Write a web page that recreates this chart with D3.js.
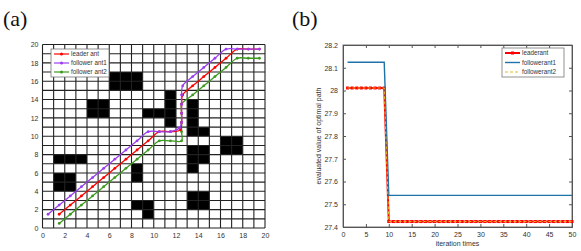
<!DOCTYPE html>
<html>
<head>
<meta charset="utf-8">
<script src="https://cdn.jsdelivr.net/npm/d3@7"></script>
<style>
  html, body { margin: 0; padding: 0; background: #fff; }
  svg { display: block; }
  text { font-family: Arial, "Liberation Sans", sans-serif; }
</style>
</head>
<body>
<svg id="chart" width="581" height="251"></svg>
<script>
// ── data: (a) grid map ──────────────────────────────────────────────
const gridTicks = [0, 2, 4, 6, 8, 10, 12, 14, 16, 18, 20];
// obstacles as [x0, y0, x1, y1] in grid units
const obstacles = [
  [6, 15, 9, 17], [4, 12, 6, 14], [9, 12, 11, 13], [11, 11, 12, 15],
  [13, 10, 14, 14], [14, 10, 15, 11], [16, 8, 18, 10], [13, 7, 15, 9],
  [13, 6, 14, 7], [1, 7, 4, 8], [1, 4, 3, 6], [8, 5, 9, 7],
  [8, 2, 10, 3], [9, 1, 10, 2], [13, 2, 15, 4]
];
const leaderPath = [
  [1.5,1.5],[2.5,2.5],[3.5,3.5],[4.5,4.5],[5.5,5.5],[6.5,6.5],[7.5,7.5],[8.5,8.5],
  [9.5,9.5],[10.5,10.5],[11.5,10.5],[12.4,10.7],[12.5,11.5],[12.5,12.5],[12.5,13.5],
  [12.6,14.5],[13.5,15.5],[14.5,16.5],[15.5,17.5],[16.5,18.5],[17.5,19.5],[18.5,19.5],[19.5,19.5]
];
const follower1Path = [
  [0.5,1.5],[1.5,2.5],[2.5,3.5],[3.5,4.5],[4.5,5.5],[5.5,6.5],[6.5,7.5],[7.5,8.5],
  [8.5,9.5],[9.5,10.5],[10.5,10.5],[11.5,10.5],[12.3,10.9],[12.5,11.5],[12.5,12.5],
  [12.5,13.5],[12.5,14.5],[12.6,15.5],[13.5,16.5],[14.5,17.5],[15.5,18.5],[16.5,19.5],
  [17.5,19.5],[18.5,19.5],[19.5,19.5]
];
const follower2Path = [
  [1.5,0.5],[2.5,1.5],[3.5,2.5],[4.5,3.5],[5.5,4.5],[6.5,5.5],[7.5,6.5],[8.5,7.5],
  [9.5,8.5],[10.5,9.5],[11.5,9.5],[12.5,9.5],[12.5,10.5],[12.5,11.5],[12.5,12.5],
  [12.5,13.5],[13.5,14.5],[14.5,15.5],[15.5,16.5],[16.5,17.5],[17.5,18.5],[18.5,18.5],[19.5,18.5]
];
const pathNames = ['leader ant', 'follower ant1', 'follower ant2'];
const pathColors = ['#ff0000', '#9b3df0', '#3c9a1e'];

// ── data: (b) convergence ───────────────────────────────────────────
const iterations = d3.range(1, 51);
const leaderBefore = 28.011, leaderAfter = 27.424;
const f1Before = 28.124, f1After = 27.539;
const f2Before = 28.011, f2After = 27.424;
const switchIter = 10;
const leaderVals = iterations.map(i => i < switchIter ? leaderBefore : leaderAfter);
const f1Vals = iterations.map(i => i < switchIter ? f1Before : f1After);
const f2Vals = iterations.map(i => i < switchIter ? f2Before : f2After);
const iterTicks = [0, 5, 10, 15, 20, 25, 30, 35, 40, 45, 50];
const valTicks = [27.4, 27.5, 27.6, 27.7, 27.8, 27.9, 28, 28.1, 28.2];
const seriesNames = ['leaderant', 'followerant1', 'followerant2'];

const svg = d3.select('#chart');
const serif = '"Liberation Serif", "DejaVu Serif", serif';

// ── (a) ─────────────────────────────────────────────────────────────
svg.append('text').attr('x', 3).attr('y', 26)
  .style('font-family', serif)
  .attr('font-size', '22px').attr('fill', '#111').text('(a)');

const xa = d3.scaleLinear().domain([0, 20]).range([42.5, 265]);
const ya = d3.scaleLinear().domain([0, 20]).range([228, 44.5]);
const ga = svg.append('g');

ga.append('rect').attr('x', xa(0)).attr('y', ya(20))
  .attr('width', xa(20) - xa(0)).attr('height', ya(0) - ya(20)).attr('fill', '#fff');

ga.selectAll('.obs').data(obstacles).enter().append('rect')
  .attr('x', d => xa(d[0])).attr('y', d => ya(d[3]))
  .attr('width', d => xa(d[2]) - xa(d[0])).attr('height', d => ya(d[1]) - ya(d[3]))
  .attr('fill', '#000');

// grid lines every unit
const units = d3.range(0, 21);
ga.selectAll('.vl').data(units).enter().append('line')
  .attr('x1', d => xa(d)).attr('x2', d => xa(d)).attr('y1', ya(0)).attr('y2', ya(20))
  .attr('stroke', '#222').attr('stroke-width', 1.1);
ga.selectAll('.hl').data(units).enter().append('line')
  .attr('y1', d => ya(d)).attr('y2', d => ya(d)).attr('x1', xa(0)).attr('x2', xa(20))
  .attr('stroke', '#222').attr('stroke-width', 1.1);

ga.append('g').attr('transform', `translate(0,${ya(0)})`)
  .call(d3.axisBottom(xa).tickValues(gridTicks).tickSize(0).tickPadding(5))
  .call(g => g.select('.domain').remove())
  .call(g => g.selectAll('text').attr('font-size', '7px').attr('fill', '#333'));
ga.append('g').attr('transform', `translate(${xa(0)},0)`)
  .call(d3.axisLeft(ya).tickValues(gridTicks).tickSize(0).tickPadding(4))
  .call(g => g.select('.domain').remove())
  .call(g => g.selectAll('text').attr('font-size', '7px').attr('fill', '#333'));

const lineA = d3.line().x(d => xa(d[0])).y(d => ya(d[1])).curve(d3.curveCatmullRom.alpha(0.5));
const paths = [follower2Path, leaderPath, follower1Path];
const pcol = [pathColors[2], pathColors[0], pathColors[1]];
paths.forEach((p, i) => {
  ga.append('path').datum(p).attr('d', lineA).attr('fill', 'none')
    .attr('stroke', pcol[i]).attr('stroke-width', 1.3);
  ga.selectAll(null).data(p).enter().append('circle')
    .attr('cx', d => xa(d[0])).attr('cy', d => ya(d[1])).attr('r', 1.4).attr('fill', pcol[i]);
});

// legend (a)
const la = ga.append('g').attr('transform', 'translate(51,49)');
la.append('rect').attr('width', 58).attr('height', 28).attr('fill', '#fff')
  .attr('stroke', '#777').attr('stroke-width', 0.8);
pathNames.forEach((n, i) => {
  const y = 5 + i * 9;
  la.append('line').attr('x1', 3).attr('x2', 18).attr('y1', y).attr('y2', y)
    .attr('stroke', pathColors[i]).attr('stroke-width', 1.2);
  la.append('circle').attr('cx', 10.5).attr('cy', y).attr('r', 1.5).attr('fill', pathColors[i]);
  la.append('text').attr('x', 20).attr('y', y + 2.3).attr('font-size', '6.3px')
    .attr('fill', '#333').text(n);
});

// ── (b) ─────────────────────────────────────────────────────────────
svg.append('text').attr('x', 292).attr('y', 26)
  .style('font-family', serif)
  .attr('font-size', '22px').attr('fill', '#111').text('(b)');

const xb = d3.scaleLinear().domain([0, 50]).range([343, 572]);
const yb = d3.scaleLinear().domain([27.4, 28.2]).range([227, 45]);
const gb = svg.append('g');

gb.append('rect').attr('x', xb(0)).attr('y', yb(28.2))
  .attr('width', xb(50) - xb(0)).attr('height', yb(27.4) - yb(28.2))
  .attr('fill', '#fff').attr('stroke', '#555').attr('stroke-width', 0.8);

gb.append('g').attr('transform', `translate(0,${yb(27.4)})`)
  .call(d3.axisBottom(xb).tickValues(iterTicks).tickSize(-3).tickPadding(5))
  .call(g => g.select('.domain').attr('stroke', '#555'))
  .call(g => g.selectAll('line').attr('stroke', '#555'))
  .call(g => g.selectAll('text').attr('font-size', '7px').attr('fill', '#333'));
gb.append('g').attr('transform', `translate(0,${yb(28.2)})`)
  .call(d3.axisTop(xb).tickValues(iterTicks).tickSize(-3).tickFormat(''))
  .call(g => g.select('.domain').attr('stroke', '#555'))
  .call(g => g.selectAll('line').attr('stroke', '#555'));
gb.append('g').attr('transform', `translate(${xb(0)},0)`)
  .call(d3.axisLeft(yb).tickValues(valTicks).tickSize(-3).tickPadding(5).tickFormat(d3.format('~g')))
  .call(g => g.select('.domain').attr('stroke', '#555'))
  .call(g => g.selectAll('line').attr('stroke', '#555'))
  .call(g => g.selectAll('text').attr('font-size', '7px').attr('fill', '#333'));
gb.append('g').attr('transform', `translate(${xb(50)},0)`)
  .call(d3.axisRight(yb).tickValues(valTicks).tickSize(-3).tickFormat(''))
  .call(g => g.select('.domain').attr('stroke', '#555'))
  .call(g => g.selectAll('line').attr('stroke', '#555'));

const lineB = d3.line().x((d, i) => xb(iterations[i])).y(d => yb(d));
gb.append('path').datum(leaderVals).attr('d', lineB).attr('fill', 'none')
  .attr('stroke', '#ff0000').attr('stroke-width', 2);
gb.selectAll('.sq').data(leaderVals).enter().append('rect')
  .attr('x', (d, i) => xb(iterations[i]) - 1.5).attr('y', d => yb(d) - 1.5)
  .attr('width', 3).attr('height', 3).attr('fill', '#ff0000');
gb.append('path').datum(f1Vals).attr('d', lineB).attr('fill', 'none')
  .attr('stroke', '#1f72a8').attr('stroke-width', 1.4);
gb.append('path').datum(f2Vals).attr('d', lineB).attr('fill', 'none')
  .attr('stroke', '#e6b820').attr('stroke-width', 1).attr('stroke-dasharray', '3,2');

gb.append('text').attr('transform', `translate(321,${(yb(27.4) + yb(28.2)) / 2}) rotate(-90)`)
  .attr('text-anchor', 'middle').attr('font-size', '7px').attr('fill', '#333')
  .text('evaluated value of optimal path');
gb.append('text').attr('x', (xb(0) + xb(50)) / 2).attr('y', 246)
  .attr('text-anchor', 'middle').attr('font-size', '7px').attr('fill', '#333')
  .text('iteration times');

// legend (b)
const lb = gb.append('g').attr('transform', 'translate(502,48)');
lb.append('rect').attr('width', 62).attr('height', 29).attr('fill', '#fff')
  .attr('stroke', '#777').attr('stroke-width', 0.8);
const legStyles = [
  { c: '#ff0000', w: 2, dash: null, sq: true },
  { c: '#1f72a8', w: 1.4, dash: null, sq: false },
  { c: '#e6b820', w: 1, dash: '3,2', sq: false }
];
seriesNames.forEach((n, i) => {
  const y = 5 + i * 9.5;
  const s = legStyles[i];
  lb.append('line').attr('x1', 3).attr('x2', 18).attr('y1', y).attr('y2', y)
    .attr('stroke', s.c).attr('stroke-width', s.w).attr('stroke-dasharray', s.dash);
  if (s.sq) lb.append('rect').attr('x', 9).attr('y', y - 1.5).attr('width', 3).attr('height', 3).attr('fill', s.c);
  lb.append('text').attr('x', 20).attr('y', y + 2.3).attr('font-size', '6.3px')
    .attr('fill', '#333').text(n);
});
</script>
</body>
</html>
